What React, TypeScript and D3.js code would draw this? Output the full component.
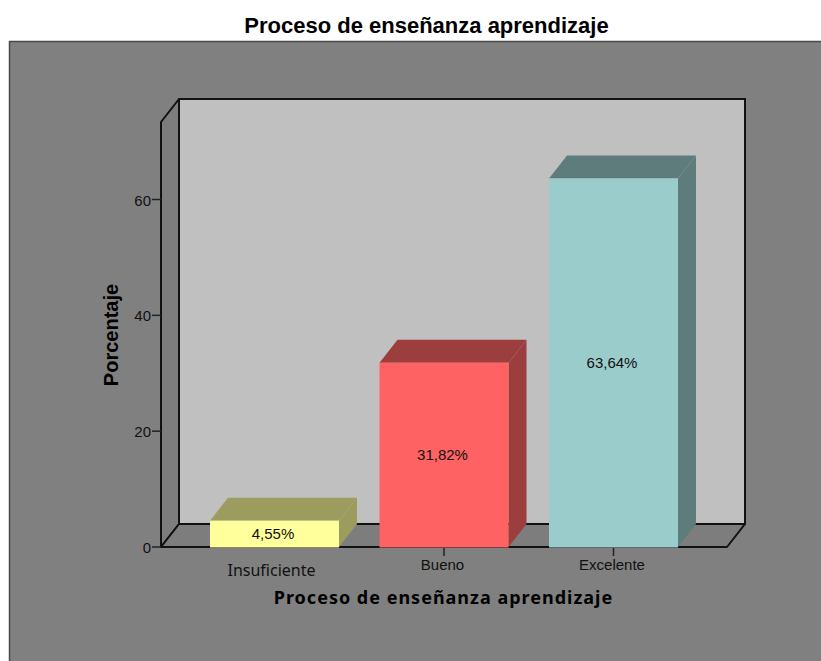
import React from "react";
import * as d3 from "d3";

const categories = ["Insuficiente", "Bueno", "Excelente"];
const percentages = [4.55, 31.82, 63.64];
const valueLabels = ["4,55%", "31,82%", "63,64%"];
const frontColors = ["#ffff9c", "#ff6262", "#9bcccc"];
const topColors = ["#9c9c5f", "#9c3e3e", "#5f7c7c"];
const yTicks = [0, 20, 40, 60];

const W = 821, H = 661;
const dx = 18, dy = -23;
const y = d3.scaleLinear().domain([0, 60]).range([547, 199.5]);
const yTopValue = y.invert(122);
const plotLeft = 161, plotRight = 727;
const x = d3.scaleBand<string>().domain(categories).range([189.75, 698.25]).paddingInner(0.239).paddingOuter(0.1195);
const pts = (a: number[][]) => a.map(p => p.join(",")).join(" ");
const arial = "'Liberation Sans', Arial, sans-serif";

export default function App() {
  const y0 = y(0), yT = y(yTopValue);
  return (
    <svg width={W} height={H} viewBox={`0 0 ${W} ${H}`} style={{ position: "fixed", left: 0, top: 0, display: "block" }}>
      <rect width={W} height={H} fill="#fff" />
      <rect x={9.5} y={41.5} width={W} height={H} fill="#808080" stroke="#4a4a4a" strokeWidth={1.5} />
      <text x={426.5} y={33} textAnchor="middle" fontFamily={arial} fontWeight="bold" fontSize={22} fill="#000">Proceso de enseñanza aprendizaje</text>

      <rect x={plotLeft + dx} y={yT + dy} width={plotRight - plotLeft} height={y0 - yT} fill="#c0c0c0" stroke="#111" strokeWidth={2} />
      <polygon points={pts([[plotLeft, yT], [plotLeft + dx, yT + dy], [plotLeft + dx, y0 + dy], [plotLeft, y0]])} fill="#7d7d7d" stroke="#111" strokeWidth={2} strokeLinejoin="round" />
      <polygon points={pts([[plotLeft, y0], [plotLeft + dx, y0 + dy], [plotRight + dx, y0 + dy], [plotRight, y0]])} fill="#7d7d7d" stroke="#111" strokeWidth={2} strokeLinejoin="round" />

      {yTicks.map(t => (
        <g key={t}>
          <line x1={plotLeft - 9} x2={plotLeft} y1={y(t)} y2={y(t)} stroke="#222" strokeWidth={1.5} />
          <text x={plotLeft - 10} y={y(t) + 6} textAnchor="end" fontFamily={arial} fontSize={15} fill="#111">{t}</text>
        </g>
      ))}

      {categories.map((c, i) => {
        const bx = x(c)!, bw = x.bandwidth(), by = y(percentages[i]);
        return (
          <g key={c}>
            {i > 0 && <line x1={bx + bw / 2} x2={bx + bw / 2} y1={y0} y2={y0 + 9} stroke="#222" strokeWidth={1.5} />}
            <polygon points={pts([[bx, by], [bx + dx, by + dy], [bx + bw + dx, by + dy], [bx + bw, by]])} fill={topColors[i]} />
            <polygon points={pts([[bx + bw, by], [bx + bw + dx, by + dy], [bx + bw + dx, y0 + dy], [bx + bw, y0]])} fill={topColors[i]} />
            <rect x={bx} y={by} width={bw} height={y0 - by + 0.5} fill={frontColors[i]} />
            <text x={bx + bw / 2 - 1.5} y={i === 0 ? 539 : (by + y0) / 2 + 5} textAnchor="middle" fontFamily={arial} fontSize={15} fill="#111">{valueLabels[i]}</text>
          </g>
        );
      })}

      <text x={271.5} y={576} textAnchor="middle" fontFamily="'Noto Sans', sans-serif" fontSize={16} fill="#111">{categories[0]}</text>
      <text x={x(categories[1])! + x.bandwidth() / 2 - 1.5} y={570} textAnchor="middle" fontFamily={arial} fontSize={15} fill="#111">{categories[1]}</text>
      <text x={x(categories[2])! + x.bandwidth() / 2 - 1.5} y={570} textAnchor="middle" fontFamily={arial} fontSize={15} fill="#111">{categories[2]}</text>

      <text x={443.5} y={604} textAnchor="middle" fontFamily="'Noto Sans', sans-serif" fontWeight="bold" fontSize={18} letterSpacing={1} fill="#000">Proceso de enseñanza aprendizaje</text>
      <text transform="translate(117.5,335) rotate(-90)" textAnchor="middle" fontFamily={arial} fontWeight="bold" fontSize={20} fill="#000">Porcentaje</text>
    </svg>
  );
}
